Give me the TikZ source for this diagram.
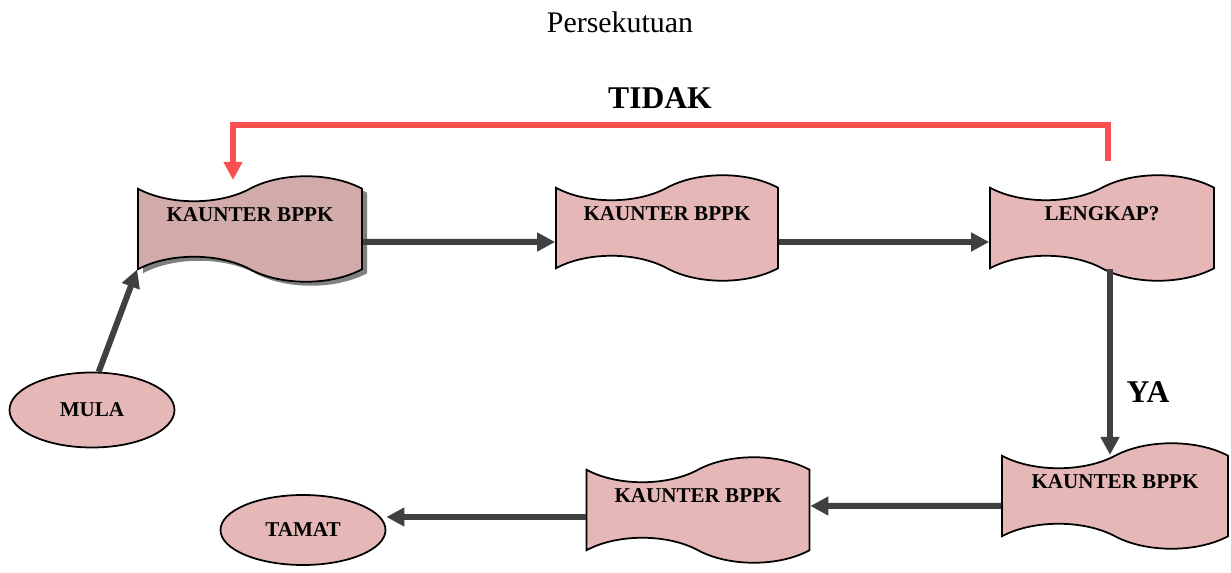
\documentclass[tikz,border=0pt]{standalone}
\usepackage{fontspec}
\setmainfont{Liberation Serif}
\usepackage{tikz}
\usetikzlibrary{shapes, shapes.symbols, shapes.geometric, arrows.meta, shadows, calc}

\definecolor{boxpink}{RGB}{229,183,183}
\definecolor{boxdark}{RGB}{209,170,170}
\definecolor{flowgrey}{RGB}{64,64,64}
\definecolor{flowred}{RGB}{250,80,80}

\begin{document}
\begin{tikzpicture}
\tikzstyle{kaunter}=[tape, draw=black, line width=1pt, fill=boxpink, minimum width=4.48cm, minimum height=2.04cm, tape bend top=in and out, tape bend bottom=out and in, tape bend height=0.5cm, font=\fontsize{12}{14}\selectfont\bfseries, text depth=17pt]
\tikzstyle{bujur}=[ellipse, draw=black, line width=1pt, fill=boxpink, minimum width=3.3cm, minimum height=1.5cm, font=\fontsize{12}{14}\selectfont\bfseries]
\tikzstyle{flow}=[-{Triangle[length=0.36cm, width=0.36cm]}, line width=0.12cm, flowgrey]
\tikzstyle{flowtidak}=[-{Triangle[length=0.36cm, width=0.36cm]}, line width=0.12cm, flowred]

\useasboundingbox (0,0) rectangle (24.62,11.46);

\node (tajuk) at (12.4,11.02) [font=\fontsize{17}{20}\selectfont] {Persekutuan};

\node (k1) at (5.0,6.88) [kaunter, fill=boxdark, drop shadow={shadow xshift=0.1cm, shadow yshift=-0.08cm, fill=gray, opacity=1}] {KAUNTER BPPK};
\node (k2) at (13.34,6.9) [kaunter, minimum width=4.44cm, minimum height=2.0cm] {KAUNTER BPPK};
\node (lengkap) at (22.04,6.9) [kaunter] {LENGKAP?};
\node (k3) at (22.3,1.54) [kaunter, minimum width=4.52cm, minimum height=2.1cm] {KAUNTER BPPK};
\node (k4) at (13.96,1.26) [kaunter, minimum width=4.46cm, minimum height=2.1cm] {KAUNTER BPPK};

\node (mula) at (1.84,3.26) [bujur] {MULA};
\node (tamat) at (6.06,0.86) [bujur, minimum height=1.4cm] {TAMAT};

\draw [flow] (mula.80) -- (k1.south west);
\draw [flow] ([yshift=-0.26cm]k1.east) -- ([yshift=-0.28cm]k2.west);
\draw [flow] ([yshift=-0.28cm]k2.east) -- ([yshift=-0.28cm]lengkap.west);
\draw [flow] ([xshift=0.16cm]lengkap.south) -- ([xshift=0.16cm]lengkap.south |- k3.north);
\draw [flow] ([yshift=-0.2cm]k3.west) -- ([yshift=0.08cm]k4.east);
\draw [flow] ([yshift=-0.14cm]k4.west) -- ([yshift=0.26cm]tamat.east);

\draw [flowtidak] ([xshift=0.12cm,yshift=0.52cm]lengkap.north) -- ++(0,0.72) -| ([xshift=-0.34cm,yshift=0.16cm]k1.north);

\node (tidak) at (13.2,9.5) [font=\fontsize{18}{21}\selectfont\bfseries] {TIDAK};
\node (ya) at (22.96,3.62) [font=\fontsize{18}{21}\selectfont\bfseries] {YA};

%%\node [below] at (k4.south) {};
\end{tikzpicture}
\end{document}
